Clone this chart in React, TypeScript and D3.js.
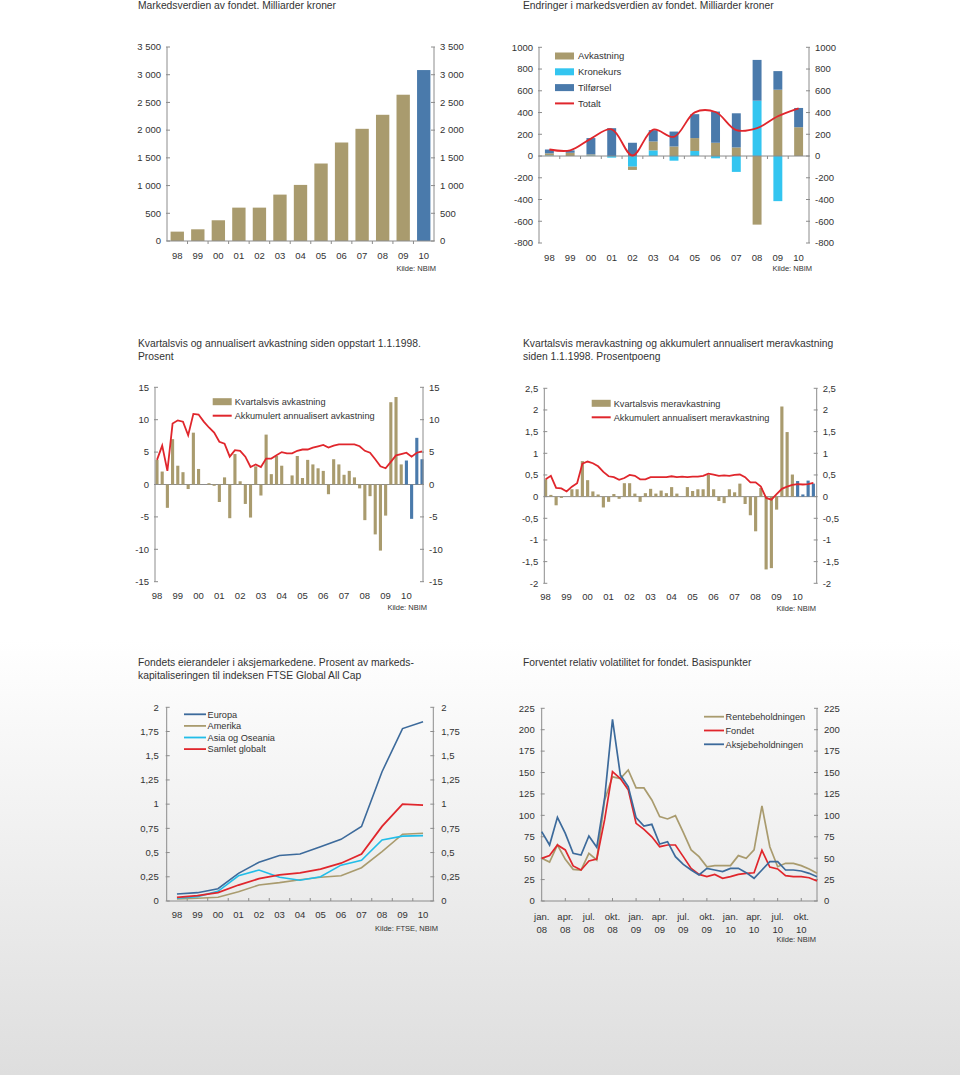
import React from 'react';
import * as d3 from 'd3';

// ---------- DATA ----------
const years = ['98', '99', '00', '01', '02', '03', '04', '05', '06', '07', '08', '09', '10'];
const marketValue = [169, 211, 374, 602, 602, 837, 1012, 1398, 1777, 2024, 2277, 2639, 3084];

const avkastning = [20, 30, 10, 0, -30, 82, 88, 119, 122, 79, -631, 610, 265];
const kronekurs = [5, 0, 5, -15, -98, 52, -43, 46, -21, -146, 509, -415, 0];
const tilforsel = [35, 22, 150, 256, 122, 104, 137, 220, 287, 314, 375, 171, 177];
const totalt = [60, 52, 160, 245, 5, 243, 177, 402, 405, 238, 256, 366, 439];

const quarterlyReturn = [
  3.8, 2.0, -3.6, 7.0, 2.9, 1.9, -0.7, 8.0, 2.4, 0.0, 0.2, -0.2, -2.7, 1.1, -5.2, 4.7,
  0.5, -3.0, -5.1, 2.8, -1.7, 7.7, 1.6, 4.4, 2.9, -0.05, 1.4, 4.4, 1.0, 3.8, 3.1, 2.5,
  2.1, -1.5, 3.9, 3.1, 1.5, 2.1, 1.1, -0.6, -5.5, -1.8, -7.7, -10.2, -4.8, 12.7, 13.5, 3.1,
  3.7, -5.3, 7.2, 3.9,
];
const annualisedReturn = [
  3.8, 6.0, 2.1, 9.4, 9.9, 9.7, 7.6, 10.9, 10.8, 9.7, 8.8, 8.0, 6.6, 6.3, 4.3, 5.3,
  5.2, 4.3, 2.7, 3.1, 2.7, 4.0, 4.0, 4.5, 5.0, 4.8, 4.8, 5.2, 5.4, 5.4, 5.7, 5.9,
  6.1, 5.7, 6.0, 6.2, 6.2, 6.2, 6.2, 5.9, 5.2, 4.9, 3.9, 2.8, 2.5, 3.5, 4.5, 4.7,
  4.9, 4.3, 4.9, 5.1,
];
const quarterlyExcess = [
  0.4, 0.04, -0.2, -0.03, 0.0, 0.17, 0.17, 0.82, 0.38, 0.12, 0.05, -0.25, -0.12, 0.06, -0.05, 0.31,
  0.31, 0.07, -0.12, 0.08, 0.18, 0.07, 0.14, 0.08, 0.22, 0.07, 0.0, 0.22, 0.13, 0.17, 0.17, 0.5,
  0.17, -0.1, -0.15, 0.17, 0.1, 0.3, -0.17, -0.43, -0.8, 0.2, -1.68, -1.65, -0.3, 2.08, 1.49, 0.51,
  0.36, 0.05, 0.37, 0.3,
];
const annualisedExcess = [
  0.4, 0.48, 0.2, 0.19, 0.12, 0.23, 0.31, 0.76, 0.81, 0.77, 0.7, 0.57, 0.47, 0.45, 0.39, 0.43,
  0.5, 0.48, 0.4, 0.4, 0.45, 0.45, 0.45, 0.45, 0.47, 0.45, 0.46, 0.45, 0.46, 0.46, 0.48, 0.53,
  0.51, 0.48, 0.49, 0.48, 0.5, 0.51, 0.45, 0.33, 0.33, 0.23, -0.03, -0.07, 0.06, 0.18, 0.23, 0.27,
  0.29, 0.28, 0.29, 0.32,
];

const ownEuropa = [0.072, 0.086, 0.127, 0.286, 0.4, 0.47, 0.485, 0.56, 0.637, 0.77, 1.335, 1.78, 1.85];
const ownAmerika = [0.02, 0.028, 0.038, 0.096, 0.165, 0.19, 0.22, 0.245, 0.26, 0.344, 0.51, 0.69, 0.7];
const ownAsia = [0.028, 0.045, 0.1, 0.26, 0.32, 0.245, 0.215, 0.25, 0.37, 0.42, 0.63, 0.67, 0.675];
const ownGlobal = [0.038, 0.055, 0.086, 0.165, 0.23, 0.27, 0.29, 0.33, 0.39, 0.485, 0.77, 1.0, 0.99];

const monthLabels = ['jan.', 'apr.', 'jul.', 'okt.', 'jan.', 'apr.', 'jul.', 'okt.', 'jan.', 'apr.', 'jul.', 'okt.'];
const monthYears = ['08', '08', '08', '08', '09', '09', '09', '09', '10', '10', '10', '10'];
const volRente = [
  49.8, 45.5, 65.4, 48.7, 37, 36.2, 55.7, 47.9, 118, 145, 143, 153,
  132, 132, 118, 98.5, 95.8, 99.7, 80, 59.6, 51.8, 40, 41.3, 41.3,
  41.3, 53, 49.8, 59.6, 111, 63.4, 40, 44, 44, 41.3, 37.4, 32.3,
];
const volFond = [
  49.8, 53, 65.4, 59.6, 40.9, 36.2, 46.7, 49, 95, 151, 143, 130,
  90.7, 83.7, 75, 63.4, 65.4, 65.4, 51.8, 38.1, 31.1, 28.4, 31, 26.5,
  28.4, 31, 32.3, 33, 59.2, 39.7, 37.4, 29.6, 28.4, 28.4, 27.2, 23.4,
];
const volAksje = [
  81, 65.4, 97.7, 79, 55.7, 53.7, 75.9, 62.7, 120, 212, 147, 133.5,
  97.3, 87.6, 89.5, 66.6, 69.3, 51.8, 42.8, 36.2, 30.4, 38.1, 36.2, 34.3,
  38.1, 38.1, 33.1, 26.5, 36.2, 45.9, 45.9, 36.2, 36.2, 35, 32.3, 28.4,
];

const ticksA = [0, 500, 1000, 1500, 2000, 2500, 3000, 3500];
const ticksB = [-800, -600, -400, -200, 0, 200, 400, 600, 800, 1000];
const ticksC = [-15, -10, -5, 0, 5, 10, 15];
const ticksD = [-2, -1.5, -1, -0.5, 0, 0.5, 1, 1.5, 2, 2.5];
const ticksE = [0, 0.25, 0.5, 0.75, 1, 1.25, 1.5, 1.75, 2];
const ticksF = [0, 25, 50, 75, 100, 125, 150, 175, 200, 225];

// ---------- STYLE ----------
const FONT = '"Liberation Sans", Arial, Helvetica, sans-serif';
const TXT = '#333';
const AXIS = '#8c8c8c';
const TAN = '#a99b6e';
const BLUE = '#4a7aab';
const DARKBLUE = '#3c6a9b';
const CYAN = '#33c5f0';
const RED = '#e0262c';

const fmtSpace = (n: number) => {
  const a = Math.abs(n);
  const s = a >= 1000 ? `${Math.floor(a / 1000)} ${String(a % 1000).padStart(3, '0')}` : String(a);
  return (n < 0 ? '-' : '') + s;
};
const fmtComma = (n: number) => String(n).replace('.', ',');

type YAxisProps = {
  y: d3.ScaleLinear<number, number>;
  ticks: number[];
  xl: number;
  xr: number;
  fmt: (n: number) => string;
  gap?: number;
};
function YAxes({ y, ticks, xl, xr, fmt, gap = 6 }: YAxisProps) {
  const top = y(d3.max(ticks) as number);
  const bot = y(d3.min(ticks) as number);
  return (
    <g>
      <line x1={xl} x2={xl} y1={top} y2={bot} stroke={AXIS} strokeWidth={1} />
      <line x1={xr} x2={xr} y1={top} y2={bot} stroke={AXIS} strokeWidth={1} />
      {ticks.map((t) => (
        <g key={t}>
          <line x1={xl - 1} x2={xl + 3} y1={y(t)} y2={y(t)} stroke={AXIS} />
          <line x1={xr - 3} x2={xr + 1} y1={y(t)} y2={y(t)} stroke={AXIS} />
          <text x={xl - gap} y={y(t)} dy="0.35em" textAnchor="end" fontSize={9.5} fill={TXT}>
            {fmt(t)}
          </text>
          <text x={xr + gap} y={y(t)} dy="0.35em" textAnchor="start" fontSize={9.5} fill={TXT}>
            {fmt(t)}
          </text>
        </g>
      ))}
    </g>
  );
}

function Title({ x, y, lines }: { x: number; y: number; lines: string[] }) {
  return (
    <text x={x} y={y} fontSize={10.3} fill={TXT}>
      {lines.map((l, i) => (
        <tspan key={i} x={x} dy={i === 0 ? 0 : 12.5}>
          {l}
        </tspan>
      ))}
    </text>
  );
}

function Kilde({ x, y, text }: { x: number; y: number; text: string }) {
  return (
    <text x={x} y={y} fontSize={7.5} fill={TXT} textAnchor="end">
      {text}
    </text>
  );
}

// ---------- PANELS ----------
function PanelA() {
  const x = d3.scaleBand<string>().domain(years).range([167, 434]).paddingInner(0.35).paddingOuter(0.175);
  const y = d3.scaleLinear().domain([0, 3500]).range([241, 47]);
  const step = x.step();
  return (
    <g>
      <Title x={138} y={8.5} lines={['Markedsverdien av fondet. Milliarder kroner']} />
      {years.map((yr, i) => (
        <rect
          key={yr}
          x={x(yr)}
          y={y(marketValue[i])}
          width={x.bandwidth()}
          height={y(0) - y(marketValue[i])}
          fill={i === years.length - 1 ? BLUE : TAN}
        />
      ))}
      <YAxes y={y} ticks={ticksA} xl={167} xr={434} fmt={fmtSpace} />
      <line x1={167} x2={434} y1={y(0)} y2={y(0)} stroke={AXIS} />
      {years.slice(1).map((yr) => (
        <line key={yr} x1={(x(yr) as number) - (step - x.bandwidth()) / 2} x2={(x(yr) as number) - (step - x.bandwidth()) / 2} y1={y(0)} y2={y(0) + 3} stroke={AXIS} />
      ))}
      {years.map((yr) => (
        <text key={yr} x={(x(yr) as number) + x.bandwidth() / 2} y={258.5} textAnchor="middle" fontSize={9.5} fill={TXT}>
          {yr}
        </text>
      ))}
      <Kilde x={436} y={271} text="Kilde: NBIM" />
    </g>
  );
}

function PanelB() {
  const x = d3.scaleBand<string>().domain(years).range([539, 809]).paddingInner(0.57).paddingOuter(0.285);
  const y = d3.scaleLinear().domain([-800, 1000]).range([243, 47.3]);
  const rows = years.map((yr, i) => ({ yr, kronekurs: kronekurs[i], avkastning: avkastning[i], tilforsel: tilforsel[i] }));
  const keys = ['kronekurs', 'avkastning', 'tilforsel'];
  const colors: Record<string, string> = { kronekurs: CYAN, avkastning: TAN, tilforsel: BLUE };
  const series = d3.stack<any>().keys(keys).offset(d3.stackOffsetDiverging)(rows);
  const cx = (yr: string) => (x(yr) as number) + x.bandwidth() / 2;
  const line = d3
    .line<number>()
    .x((_, i) => cx(years[i]))
    .y((d) => y(d))
    .curve(d3.curveCatmullRom.alpha(0.5));
  const step = x.step();
  const legend = [
    { label: 'Avkastning', color: TAN },
    { label: 'Kronekurs', color: CYAN },
    { label: 'Tilførsel', color: BLUE },
  ];
  return (
    <g>
      <Title x={523} y={8.5} lines={['Endringer i markedsverdien av fondet. Milliarder kroner']} />
      {series.map((s) => (
        <g key={s.key} fill={colors[s.key]}>
          {s.map((d, i) => (
            <rect key={i} x={x(years[i])} y={y(Math.max(d[0], d[1]))} width={x.bandwidth()} height={Math.abs(y(d[0]) - y(d[1]))} />
          ))}
        </g>
      ))}
      <YAxes y={y} ticks={ticksB} xl={539} xr={809} fmt={(n) => String(n)} />
      <line x1={539} x2={809} y1={y(0)} y2={y(0)} stroke={AXIS} />
      {years.slice(1).map((yr) => (
        <line key={yr} x1={(x(yr) as number) - (step - x.bandwidth()) / 2} x2={(x(yr) as number) - (step - x.bandwidth()) / 2} y1={y(0)} y2={y(0) + 3} stroke={AXIS} />
      ))}
      <path d={line(totalt) as string} fill="none" stroke={RED} strokeWidth={1.8} />
      {years.map((yr) => (
        <text key={yr} x={cx(yr)} y={261} textAnchor="middle" fontSize={9.5} fill={TXT}>
          {yr}
        </text>
      ))}
      {legend.map((l, i) => (
        <g key={l.label}>
          <rect x={555} y={56 + i * 15.8 - 3.5} width={19} height={7} fill={l.color} />
          <text x={578} y={56 + i * 15.8} dy="0.35em" fontSize={9.5} fill={TXT}>
            {l.label}
          </text>
        </g>
      ))}
      <line x1={555} x2={574} y1={103.4} y2={103.4} stroke={RED} strokeWidth={2} />
      <text x={578} y={103.4} dy="0.35em" fontSize={9.5} fill={TXT}>
        Totalt
      </text>
      <Kilde x={812} y={271} text="Kilde: NBIM" />
    </g>
  );
}

type QProps = {
  bars: number[];
  lineVals: number[];
  range: [number, number];
  axL: number;
  axR: number;
  y: d3.ScaleLinear<number, number>;
  ticks: number[];
  fmt: (n: number) => string;
  labelY: number;
  legendX: number;
  legendY: number;
  legendLabels: [string, string];
  kildeX: number;
  kildeY: number;
  title: string[];
  titleX: number;
};
function QuarterPanel(p: QProps) {
  const idx = d3.range(p.bars.length);
  const x = d3.scaleBand<number>().domain(idx).range(p.range).paddingInner(0.4).paddingOuter(0.2);
  const cx = (i: number) => (x(i) as number) + x.bandwidth() / 2;
  const y = p.y;
  const line = d3
    .line<number>()
    .x((_, i) => cx(i))
    .y((d) => y(d));
  const n = p.bars.length;
  return (
    <g>
      <Title x={p.titleX} y={347} lines={p.title} />
      <line x1={p.axL} x2={p.axR} y1={y(0)} y2={y(0)} stroke={AXIS} />
      {p.bars.map((v, i) => (
        <rect
          key={i}
          x={x(i)}
          y={y(Math.max(0, v))}
          width={x.bandwidth()}
          height={Math.abs(y(v) - y(0))}
          fill={i >= n - 4 ? BLUE : TAN}
        />
      ))}
      <YAxes y={y} ticks={p.ticks} xl={p.axL} xr={p.axR} fmt={p.fmt} />
      <path d={line(p.lineVals) as string} fill="none" stroke={RED} strokeWidth={1.8} />
      {years.map((yr, k) => (
        <text key={yr} x={cx(k * 4)} y={p.labelY} textAnchor="middle" fontSize={9.5} fill={TXT}>
          {yr}
        </text>
      ))}
      <rect x={p.legendX} y={p.legendY - 3.5} width={19} height={7} fill={TAN} />
      <text x={p.legendX + 22} y={p.legendY} dy="0.35em" fontSize={9.2} fill={TXT}>
        {p.legendLabels[0]}
      </text>
      <line x1={p.legendX} x2={p.legendX + 19} y1={p.legendY + 14} y2={p.legendY + 14} stroke={RED} strokeWidth={2} />
      <text x={p.legendX + 22} y={p.legendY + 14} dy="0.35em" fontSize={9.2} fill={TXT}>
        {p.legendLabels[1]}
      </text>
      <Kilde x={p.kildeX} y={p.kildeY} text="Kilde: NBIM" />
    </g>
  );
}

function PanelE() {
  const x = d3.scalePoint<string>().domain(years).range([166.7, 433.3]).padding(0.5);
  const y = d3.scaleLinear().domain([0, 2]).range([901, 707.3]);
  const line = d3
    .line<number>()
    .x((_, i) => x(years[i]) as number)
    .y((d) => y(d));
  const series = [
    { label: 'Europa', vals: ownEuropa, color: DARKBLUE },
    { label: 'Amerika', vals: ownAmerika, color: TAN },
    { label: 'Asia og Oseania', vals: ownAsia, color: '#22bde8' },
    { label: 'Samlet globalt', vals: ownGlobal, color: RED },
  ];
  const step = x.step();
  return (
    <g>
      <Title x={138} y={666} lines={['Fondets eierandeler i aksjemarkedene. Prosent av markeds-', 'kapitaliseringen til indeksen FTSE Global All Cap']} />
      <YAxes y={y} ticks={ticksE} xl={166.7} xr={433.3} fmt={fmtComma} gap={8} />
      <line x1={166.7} x2={433.3} y1={y(0)} y2={y(0)} stroke={AXIS} />
      {years.slice(1).map((yr) => (
        <line key={yr} x1={(x(yr) as number) - step / 2} x2={(x(yr) as number) - step / 2} y1={y(0)} y2={y(0) - 3} stroke={AXIS} />
      ))}
      {series.map((s) => (
        <path key={s.label} d={line(s.vals) as string} fill="none" stroke={s.color} strokeWidth={s.color === RED ? 1.8 : 1.6} />
      ))}
      {years.map((yr) => (
        <text key={yr} x={x(yr)} y={917.5} textAnchor="middle" fontSize={9.5} fill={TXT}>
          {yr}
        </text>
      ))}
      {series.map((s, i) => (
        <g key={s.label}>
          <line x1={184} x2={206} y1={714.3 + i * 11.6} y2={714.3 + i * 11.6} stroke={s.color} strokeWidth={1.8} />
          <text x={207.5} y={714.3 + i * 11.6} dy="0.35em" fontSize={9.2} fill={TXT}>
            {s.label}
          </text>
        </g>
      ))}
      <Kilde x={438} y={931} text="Kilde: FTSE, NBIM" />
    </g>
  );
}

function PanelF() {
  const idx = d3.range(volFond.length);
  const x = d3.scalePoint<number>().domain(idx).range([541.7, 817]);
  const y = d3.scaleLinear().domain([0, 225]).range([901, 708.3]);
  const line = d3
    .line<number>()
    .x((_, i) => x(i) as number)
    .y((d) => y(d));
  const series = [
    { label: 'Rentebeholdningen', vals: volRente, color: TAN },
    { label: 'Fondet', vals: volFond, color: RED },
    { label: 'Aksjebeholdningen', vals: volAksje, color: DARKBLUE },
  ];
  return (
    <g>
      <Title x={523} y={666} lines={['Forventet relativ volatilitet for fondet. Basispunkter']} />
      <YAxes y={y} ticks={ticksF} xl={541.7} xr={817} fmt={(n) => String(n)} gap={7} />
      <line x1={541.7} x2={817} y1={y(0)} y2={y(0)} stroke={AXIS} />
      {monthLabels.map((_, k) =>
        k === 0 ? null : (
          <line key={k} x1={x(k * 3)} x2={x(k * 3)} y1={y(0)} y2={y(0) - 3} stroke={AXIS} />
        )
      )}
      {series.map((s) => (
        <path key={s.label} d={line(s.vals) as string} fill="none" stroke={s.color} strokeWidth={1.7} />
      ))}
      {monthLabels.map((m, k) => (
        <g key={k}>
          <text x={x(k * 3)} y={920} textAnchor="middle" fontSize={9.5} fill={TXT}>
            {m}
          </text>
          <text x={x(k * 3)} y={932.5} textAnchor="middle" fontSize={9.5} fill={TXT}>
            {monthYears[k]}
          </text>
        </g>
      ))}
      {series.map((s, i) => (
        <g key={s.label}>
          <line x1={704} x2={724} y1={716.7 + i * 13.8} y2={716.7 + i * 13.8} stroke={s.color} strokeWidth={1.8} />
          <text x={725.5} y={716.7 + i * 13.8} dy="0.35em" fontSize={9.2} fill={TXT}>
            {s.label}
          </text>
        </g>
      ))}
      <Kilde x={816} y={942} text="Kilde: NBIM" />
    </g>
  );
}

export default function App() {
  const yC = d3.scaleLinear().domain([-15, 15]).range([581.7, 387.3]);
  const yD = d3.scaleLinear().domain([-2, 2.5]).range([583.3, 388.3]);
  return (
    <svg
      width={960}
      height={1075}
      viewBox="0 0 960 1075"
      style={{ position: 'absolute', left: 0, top: 0, display: 'block' }}
      fontFamily={FONT}
    >
      <defs>
        <linearGradient id="bg" x1="0" y1="0" x2="0" y2="1">
          <stop offset="0" stopColor="#ffffff" />
          <stop offset="1" stopColor="#dedede" />
        </linearGradient>
      </defs>
      <rect x={0} y={0} width={960} height={1075} fill="#fff" />
      <rect x={0} y={640} width={960} height={435} fill="url(#bg)" />
      <PanelA />
      <PanelB />
      <QuarterPanel
        bars={quarterlyReturn}
        lineVals={annualisedReturn}
        range={[154.4, 424.6]}
        axL={155}
        axR={423}
        y={yC}
        ticks={ticksC}
        fmt={(n) => String(n)}
        labelY={598.5}
        legendX={212.7}
        legendY={401.7}
        legendLabels={['Kvartalsvis avkastning', 'Akkumulert annualisert avkastning']}
        kildeX={427}
        kildeY={610}
        title={['Kvartalsvis og annualisert avkastning siden oppstart 1.1.1998.', 'Prosent']}
        titleX={138}
      />
      <QuarterPanel
        bars={quarterlyExcess}
        lineVals={annualisedExcess}
        range={[543, 816]}
        axL={544.3}
        axR={816.7}
        y={yD}
        ticks={ticksD}
        fmt={fmtComma}
        labelY={599.5}
        legendX={591.7}
        legendY={403.3}
        legendLabels={['Kvartalsvis meravkastning', 'Akkumulert annualisert meravkastning']}
        kildeX={816}
        kildeY={611}
        title={['Kvartalsvis meravkastning og akkumulert annualisert meravkastning', 'siden 1.1.1998. Prosentpoeng']}
        titleX={523}
      />
      <PanelE />
      <PanelF />
    </svg>
  );
}
